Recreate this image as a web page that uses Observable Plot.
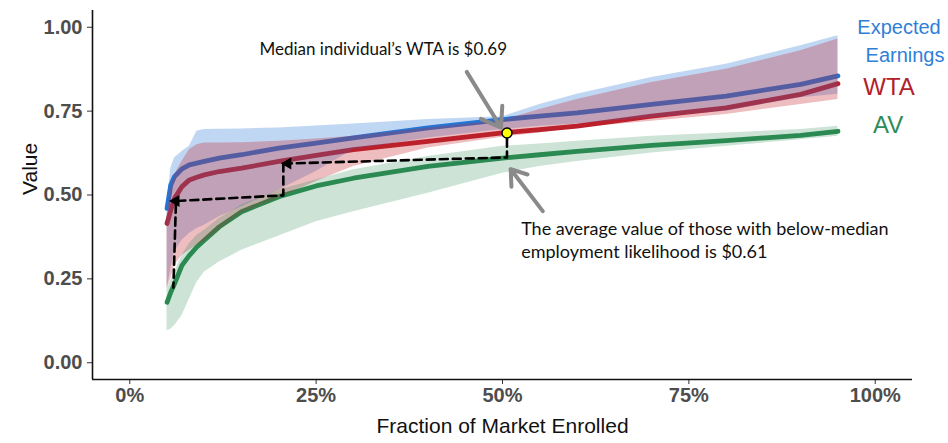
<!DOCTYPE html>
<html><head><meta charset="utf-8">
<script src="https://cdn.jsdelivr.net/npm/d3@7"></script>
<script src="https://cdn.jsdelivr.net/npm/@observablehq/plot@0.6"></script>
<style>body{margin:0;background:#fff}</style>
</head><body><div id="chart"></div>
<script>
// Fraction of market enrolled (shared x grid)
const fraction = [0.05,0.055,0.06,0.07,0.08,0.09,0.10,0.12,0.15,0.20,0.25,0.30,0.40,0.50,0.55,0.60,0.70,0.80,0.90,0.95];

// Expected Earnings
const eeMean = [0.46,0.53,0.555,0.578,0.59,0.595,0.60,0.61,0.62,0.64,0.655,0.67,0.70,0.725,0.735,0.745,0.77,0.795,0.83,0.855];
const eeLow  = [0.22,0.28,0.33,0.365,0.385,0.40,0.41,0.435,0.465,0.515,0.57,0.635,0.67,0.695,0.705,0.712,0.73,0.75,0.79,0.80];
const eeHigh = [0.47,0.58,0.61,0.63,0.645,0.69,0.695,0.696,0.697,0.70,0.706,0.712,0.725,0.733,0.77,0.80,0.85,0.89,0.945,0.975];

// WTA
const wtaMean = [0.415,0.455,0.49,0.525,0.545,0.553,0.56,0.57,0.58,0.60,0.618,0.635,0.66,0.685,0.695,0.705,0.735,0.76,0.80,0.832];
const wtaLow  = [0.22,0.25,0.29,0.32,0.335,0.35,0.36,0.395,0.445,0.49,0.54,0.585,0.64,0.672,0.685,0.70,0.72,0.74,0.77,0.785];
const wtaHigh = [0.44,0.52,0.56,0.60,0.635,0.65,0.655,0.655,0.656,0.66,0.667,0.675,0.70,0.722,0.755,0.785,0.835,0.875,0.93,0.965];

// AV
const avMean = [0.18,0.21,0.235,0.29,0.32,0.345,0.365,0.405,0.45,0.495,0.527,0.55,0.585,0.61,0.62,0.63,0.648,0.662,0.678,0.69];
const avLow  = [0.095,0.10,0.11,0.14,0.19,0.24,0.27,0.30,0.335,0.378,0.42,0.45,0.505,0.565,0.585,0.60,0.625,0.645,0.665,0.675];
const avHigh = [0.22,0.245,0.27,0.32,0.355,0.38,0.395,0.43,0.47,0.515,0.545,0.575,0.615,0.645,0.652,0.66,0.675,0.685,0.695,0.705];

// Axes
const xTicks = [0,0.25,0.5,0.75,1];
const xTickLabels = ["0%","25%","50%","75%","100%"];
const yTicks = [0,0.25,0.5,0.75,1];
const yTickLabels = ["0.00","0.25","0.50","0.75","1.00"];

// Annotation: dashed step path (segment id, x, y)
const stepSeg = ["a","a","a","b","b","b","b"];
const stepX   = [0.506,0.506,0.212,0.206,0.206,0.062,0.0585];
const stepY   = [0.668,0.612,0.594,0.594,0.499,0.482,0.224];
const headX = [0.212,0.062];
const headY = [0.594,0.482];
// grey pointer arrows
const ptrX1 = [0.452,0.554], ptrY1 = [0.867,0.452];
const ptrX2 = [0.498,0.511], ptrY2 = [0.701,0.577];
// median point
const medianX = [0.506], medianY = [0.685];

const rows = (m, lo, hi) => fraction.map((x, i) => ({x, m: m[i], lo: lo[i], hi: hi[i]}));
const ee = rows(eeMean, eeLow, eeHigh);
const wta = rows(wtaMean, wtaLow, wtaHigh);
const av = rows(avMean, avLow, avHigh);
const step = stepX.map((x, i) => ({x, y: stepY[i], s: stepSeg[i]}));
const heads = headX.map((x, i) => ({x, y: headY[i]}));
const ptrs = ptrX1.map((x, i) => ({x1: x, y1: ptrY1[i], x2: ptrX2[i], y2: ptrY2[i]}));
const med = medianX.map((x, i) => ({x, y: medianY[i]}));

const BLUE = "#2273d3", RED = "#b81f2a", GREEN = "#2b8a52";
const annFont = "Lato, 'Open Sans', sans-serif";
const axFont = "'Liberation Sans', Arial, sans-serif";

const chart = Plot.plot({
  width: 948, height: 443,
  marginLeft: 92, marginRight: 36, marginTop: 10, marginBottom: 64,
  x: {domain: [-0.05, 1.05]},
  y: {domain: [-0.05, 1.05]},
  style: {fontFamily: axFont, fontSize: "20px", fontWeight: "bold", background: "#fff", overflow: "visible"},
  marks: [
    Plot.axisX({ticks: xTicks, tickFormat: (d, i) => xTickLabels[i], fontSize: 20, fontWeight: "bold", fill: "#4d4d4d", stroke: "#333", tickSize: 5, tickPadding: 3, label: null}),
    Plot.axisY({ticks: yTicks, tickFormat: (d, i) => yTickLabels[i], fontSize: 20, fontWeight: "bold", fill: "#4d4d4d", stroke: "#333", tickSize: 5, tickPadding: 5, label: null}),
    Plot.ruleX([-0.05], {stroke: "#111", strokeWidth: 1.6}),
    Plot.ruleY([-0.05], {stroke: "#111", strokeWidth: 1.6}),
    // lines
    Plot.line(av, {x: "x", y: "m", stroke: GREEN, strokeWidth: 4.8}),
    Plot.line(wta, {x: "x", y: "m", stroke: RED, strokeWidth: 4.8}),
    Plot.line(ee, {x: "x", y: "m", stroke: BLUE, strokeWidth: 4.8}),
    // ribbons (drawn over the lines)
    Plot.areaY(ee, {x: "x", y1: "lo", y2: "hi", fill: "#2f7bd8", fillOpacity: 0.3}),
    Plot.areaY(wta, {x: "x", y1: "lo", y2: "hi", fill: "#c4262f", fillOpacity: 0.3}),
    Plot.areaY(av, {x: "x", y1: "lo", y2: "hi", fill: GREEN, fillOpacity: 0.24}),
    // dashed annotation
    Plot.line(step, {x: "x", y: "y", z: "s", stroke: "#000", strokeWidth: 2.6, strokeDasharray: "8,5"}),
    Plot.dot(heads, {x: "x", y: "y", symbol: "triangle", rotate: -90, r: 4.5, fill: "#000", stroke: null}),
    Plot.arrow(ptrs, {x1: "x1", y1: "y1", x2: "x2", y2: "y2", stroke: "#8a8a8a", strokeWidth: 4, headLength: 11, headAngle: 70}),
    Plot.dot(med, {x: "x", y: "y", r: 5, fill: "#ffff00", stroke: "#000", strokeWidth: 1.5}),
    // annotation texts
    Plot.text(["Median individual\u2019s WTA is $0.69"], {x: 0.174, y: 0.935, textAnchor: "start", fontFamily: annFont, fontSize: 17, fontWeight: "normal", fill: "#111"}),
    Plot.text(["The average value of those with below-median"], {x: 0.525, y: 0.399, textAnchor: "start", fontFamily: annFont, fontSize: 18, fontWeight: "normal", fill: "#111"}),
    Plot.text(["employment likelihood is $0.61"], {x: 0.525, y: 0.328, textAnchor: "start", fontFamily: annFont, fontSize: 18, fontWeight: "normal", fill: "#111"}),
    // series labels
    Plot.text(["Expected"], {x: 0.976, y: 1.0, textAnchor: "start", fontFamily: axFont, fontSize: 20, fontWeight: "normal", fill: "#2f80d8"}),
    Plot.text(["Earnings"], {x: 0.987, y: 0.917, textAnchor: "start", fontFamily: axFont, fontSize: 20, fontWeight: "normal", fill: "#2f80d8"}),
    Plot.text(["WTA"], {x: 0.984, y: 0.822, textAnchor: "start", fontFamily: axFont, fontSize: 24, fontWeight: "normal", fill: "#b3202a"}),
    Plot.text(["AV"], {x: 0.997, y: 0.709, textAnchor: "start", fontFamily: axFont, fontSize: 24, fontWeight: "normal", fill: "#2e8b57"}),
    // axis titles
    Plot.text(["Value"], {frameAnchor: "left", dx: -62, rotate: -90, fontFamily: axFont, fontSize: 21, fontWeight: "normal", fill: "#111"}),
    Plot.text(["Fraction of Market Enrolled"], {frameAnchor: "bottom", dy: 53, fontFamily: axFont, fontSize: 21, fontWeight: "normal", fill: "#111"})
  ]
});
document.getElementById("chart").append(chart);
</script>
</body></html>
